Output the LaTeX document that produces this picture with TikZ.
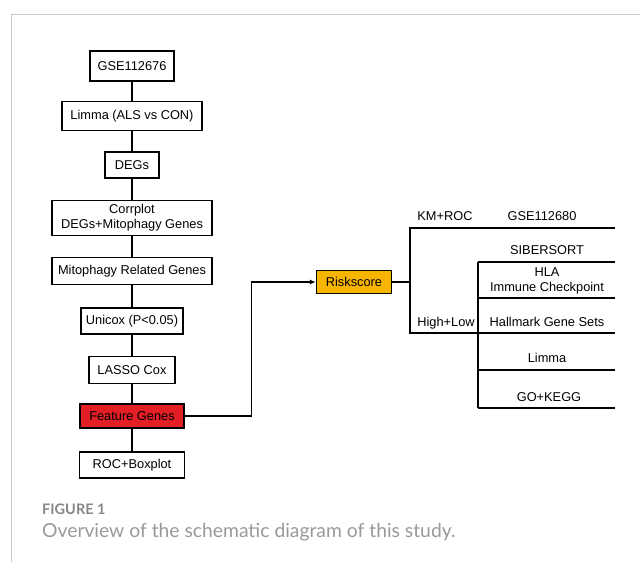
\documentclass[tikz,border=0pt]{standalone}
\usepackage{fontspec}
\setmainfont{Liberation Sans}
\newfontfamily\capfont{Lato}
\usepackage{tikz}
\usetikzlibrary{arrows.meta,positioning,calc}
\definecolor{featred}{RGB}{227,30,36}
\definecolor{riskgold}{RGB}{247,181,0}
\definecolor{framegray}{RGB}{200,200,200}
\definecolor{capgray}{RGB}{135,135,135}

\begin{document}
\begin{tikzpicture}[
  x=1pt, y=-1pt,
  font=\fontsize{12.8}{15}\selectfont,
  >={Latex[length=6pt,width=5pt]},
  stepbox/.style={draw, line width=1.4pt, align=center, inner sep=2pt, minimum height=27pt},
  feat/.style={stepbox, fill=featred},
  risk/.style={stepbox, fill=riskgold},
  lbl/.style={align=center, inner sep=0pt},
  ln/.style={line width=1.2pt},
  arr/.style={->, line width=1.2pt}
]
\useasboundingbox (0,0) rectangle (640,562);
\draw[framegray, line width=0.9pt] (11,562) -- (11,14.5) -- (640,14.5);

% left column
\node[stepbox, minimum width=84pt, minimum height=30pt] (s1) at (132,66) {GSE112676};
\node[stepbox, minimum width=140pt, minimum height=29pt] (s2) at (132,116) {Limma (ALS vs CON)};
\node[stepbox, minimum width=54pt, minimum height=26pt] (s3) at (132,165) {DEGs};
\node[stepbox, minimum width=160pt, minimum height=35pt] (s4) at (132,218) {Corrplot\\DEGs+Mitophagy Genes};
\node[stepbox, minimum width=160pt, minimum height=27pt] (s5) at (132,271) {Mitophagy Related Genes};
\node[stepbox, minimum width=102pt, minimum height=26pt] (s6) at (132,321) {Unicox (P<0.05)};
\node[stepbox, minimum width=86pt, minimum height=27pt] (s7) at (132,370) {LASSO Cox};
\node[feat, minimum width=104pt, minimum height=24pt] (s8) at (132,416) {Feature Genes};
\node[stepbox, minimum width=105pt, minimum height=26pt] (s9) at (132,465) {ROC+Boxplot};
\draw[ln] (s1) -- (s2);
\draw[ln] (s2) -- (s3);
\draw[ln] (s3) -- (s4);
\draw[ln] (s4) -- (s5);
\draw[ln] (s5) -- (s6);
\draw[ln] (s6) -- (s7);
\draw[ln] (s7) -- (s8);
\draw[ln] (s8) -- (s9);

% riskscore and branches
\node[risk, minimum width=75pt, minimum height=23pt] (rs) at (354,282) {Riskscore};
\draw[arr] (s8.east) -- ++(67,0) |- (rs.west);

\coordinate (km) at (410,228);
\coordinate (kmEnd) at (615,228);
\coordinate (hl) at (410,333);
\coordinate (b1) at (478,262);
\coordinate (b2) at (478,298);
\coordinate (b3) at (478,333);
\coordinate (b4) at (478,370);
\coordinate (b5) at (478,408);
\coordinate (e1) at (615,262);
\coordinate (e2) at (615,298);
\coordinate (e3) at (615,333);
\coordinate (e4) at (615,370);
\coordinate (e5) at (615,408);
\draw[ln] (rs.east) -| (km) -- (kmEnd);
\draw[ln] (rs.east) -| (hl) -- (b3);
\draw[ln] (b1) -- (b5);
\draw[ln] (b1) -- (e1);
\draw[ln] (b2) -- (e2);
\draw[ln] (b3) -- (e3);
\draw[ln] (b4) -- (e4);
\draw[ln] (b5) -- (e5);

\node[lbl] (kmroc) at (445,216) {KM+ROC};
\node[lbl] (valid) at (542,216) {GSE112680};
\node[lbl] (highlow) at (446,323) {High+Low};
\node[lbl] (sib) at (547,250) {SIBERSORT};
\node[lbl] (hla) at (547,281) {HLA\\Immune Checkpoint};
\node[lbl] (hall) at (547,322) {Hallmark Gene Sets};
\node[lbl] (limma) at (547,358) {Limma};
\node[lbl] (gokegg) at (549,397) {GO+KEGG};

% caption
\node[anchor=base west, inner sep=0pt, text=capgray, font=\capfont\bfseries\fontsize{14.5}{17}\selectfont] (fig) at (42,514) {FIGURE 1};
\node[anchor=base west, inner sep=0pt, text=capgray!85, font=\capfont\fontsize{19.3}{22}\selectfont] (cap) at (42,537) {Overview of the schematic diagram of this study.};
\end{tikzpicture}
\end{document}
